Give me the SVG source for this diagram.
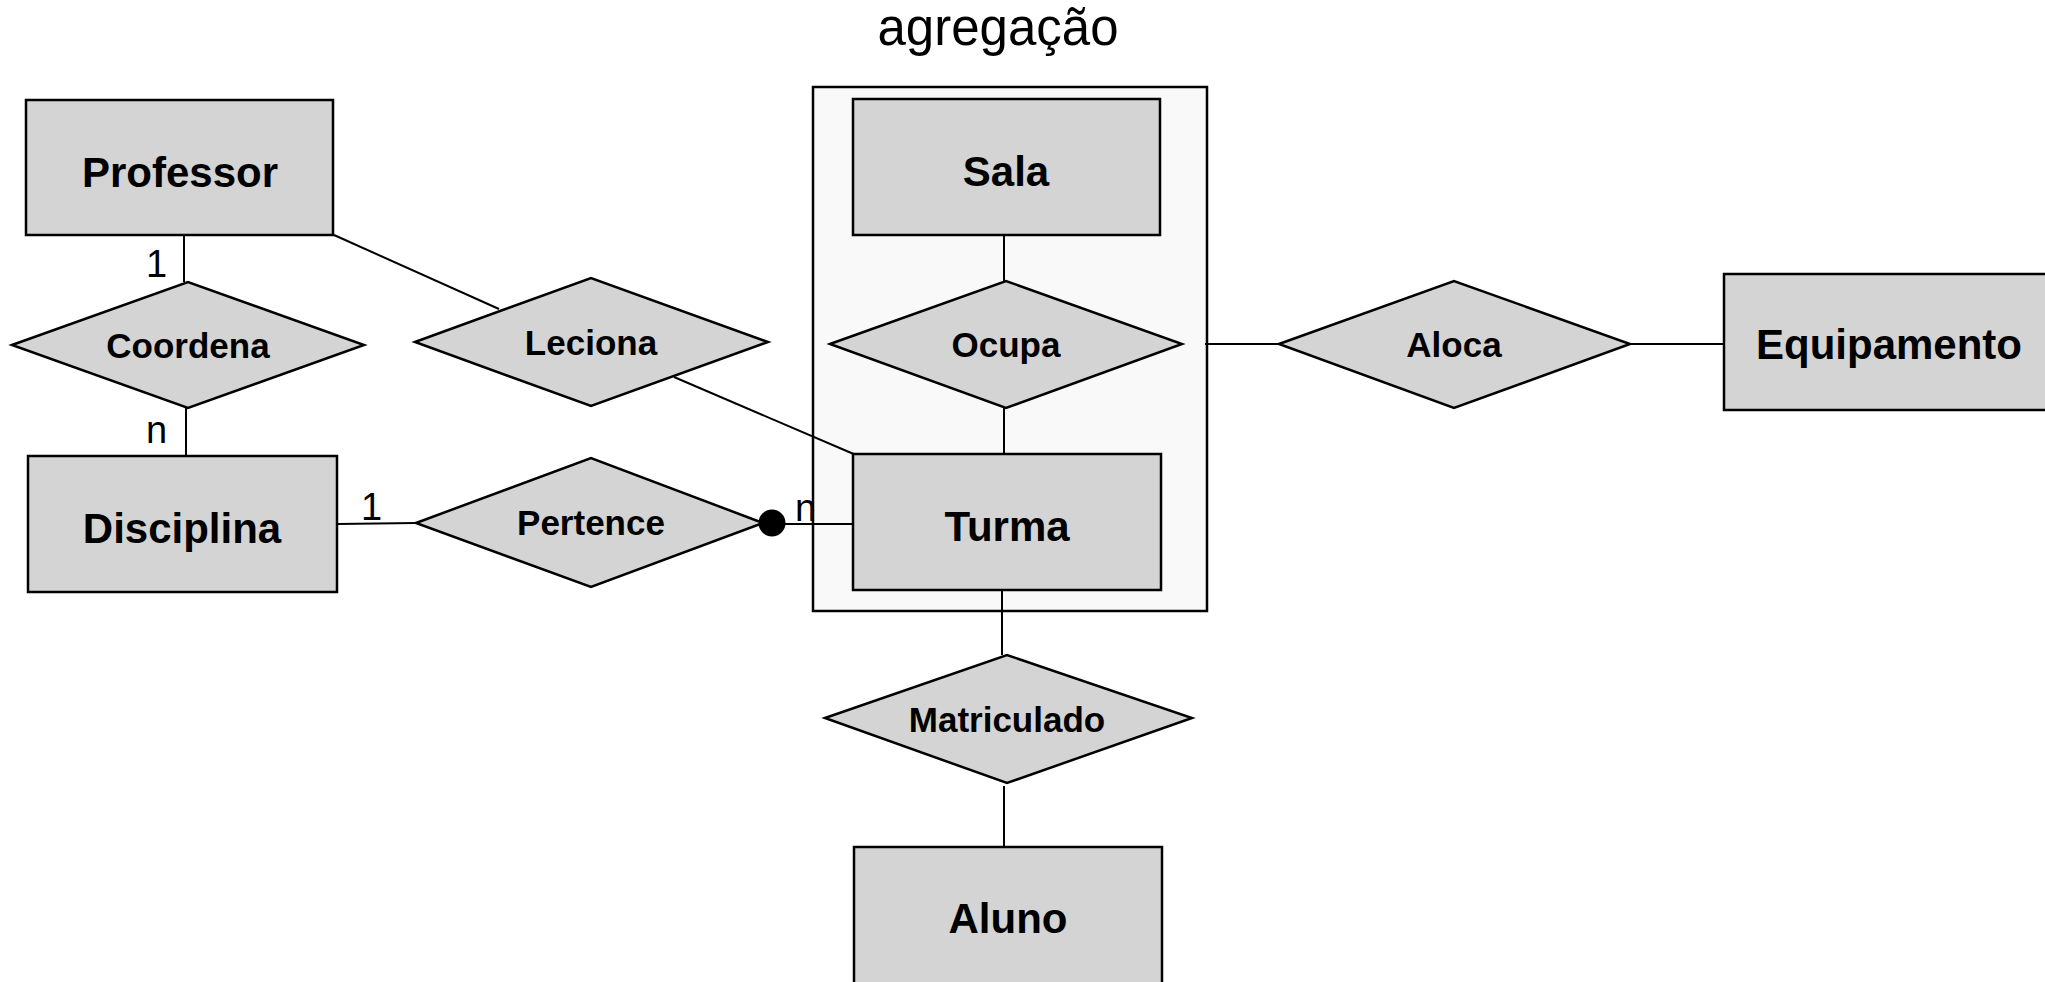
<svg xmlns="http://www.w3.org/2000/svg" width="2045" height="982" viewBox="0 0 2045 982">
<style>
.ent{fill:#d4d4d4;stroke:#000;stroke-width:2.5}
.rel{fill:#d4d4d4;stroke:#000;stroke-width:2.5;stroke-linejoin:miter}
.et{font-family:"Liberation Sans",Arial,sans-serif;font-weight:bold;font-size:42px;text-anchor:middle;fill:#000}
.rt{font-family:"Liberation Sans",Arial,sans-serif;font-weight:bold;font-size:35px;text-anchor:middle;fill:#000}
.lbl{font-family:"Liberation Sans",Arial,sans-serif;font-size:38px;fill:#000}
.ln{stroke:#000;stroke-width:2;fill:none}
</style>
<rect width="2045" height="982" fill="#fff"/>
<g id="agregacao">
<rect x="813" y="87" width="394" height="524" fill="#f9f9f9" stroke="#000" stroke-width="2.5"/>
<text x="998" y="45" style="font-family:'Liberation Sans',Arial,sans-serif;font-size:51px;text-anchor:middle">agregação</text>
</g>
<g id="connectors">
<line class="ln" x1="184" y1="235" x2="184" y2="282"/>
<line class="ln" x1="186" y1="408" x2="186" y2="456"/>
<line class="ln" x1="334" y1="235" x2="499" y2="309"/>
<line class="ln" x1="674" y1="377" x2="856" y2="455"/>
<line class="ln" x1="337" y1="524" x2="416" y2="523"/>
<line class="ln" x1="772" y1="524" x2="853" y2="524"/>
<circle cx="772" cy="523" r="13.5" fill="#000"/>
<line class="ln" x1="1004" y1="235" x2="1004" y2="281"/>
<line class="ln" x1="1004" y1="408" x2="1004" y2="454"/>
<line class="ln" x1="1205" y1="344" x2="1279" y2="344"/>
<line class="ln" x1="1630" y1="344" x2="1729" y2="344"/>
<line class="ln" x1="1002" y1="590" x2="1002" y2="655"/>
<line class="ln" x1="1004" y1="786" x2="1004" y2="847"/>
<text class="lbl" x="146" y="277">1</text>
<text class="lbl" x="146" y="443">n</text>
<text class="lbl" x="361" y="520">1</text>
<text class="lbl" x="795" y="521">n</text>
</g>
<g id="professor">
<rect class="ent" x="26" y="100" width="307" height="135"/>
<text class="et" x="180" y="187">Professor</text>
</g>
<g id="sala">
<rect class="ent" x="853" y="99" width="307" height="136"/>
<text class="et" x="1006" y="186">Sala</text>
</g>
<g id="disciplina">
<rect class="ent" x="28" y="456" width="309" height="136"/>
<text class="et" x="182" y="543">Disciplina</text>
</g>
<g id="turma">
<rect class="ent" x="853" y="454" width="308" height="136"/>
<text class="et" x="1007" y="541">Turma</text>
</g>
<g id="aluno">
<rect class="ent" x="854" y="847" width="308" height="150"/>
<text class="et" x="1008" y="933">Aluno</text>
</g>
<g id="equipamento">
<rect class="ent" x="1724" y="274" width="335" height="136"/>
<text class="et" x="1889" y="359">Equipamento</text>
</g>
<g id="coordena">
<polygon class="rel" points="12,345 188,282 364,345 188,408"/>
<text class="rt" x="188" y="358">Coordena</text>
</g>
<g id="leciona">
<polygon class="rel" points="415,342 591,278 768,342 591,406"/>
<text class="rt" x="591" y="355">Leciona</text>
</g>
<g id="pertence">
<polygon class="rel" points="416,523 591,458 763,523 591,587"/>
<text class="rt" x="591" y="535">Pertence</text>
</g>
<g id="ocupa">
<polygon class="rel" points="830,344 1006,281 1182,344 1006,408"/>
<text class="rt" x="1006" y="357">Ocupa</text>
</g>
<g id="aloca">
<polygon class="rel" points="1279,344 1454,281 1630,344 1454,408"/>
<text class="rt" x="1454" y="357">Aloca</text>
</g>
<g id="matriculado">
<polygon class="rel" points="825,718 1007,655 1192,718 1007,783"/>
<text class="rt" x="1007" y="732">Matriculado</text>
</g>
</svg>
